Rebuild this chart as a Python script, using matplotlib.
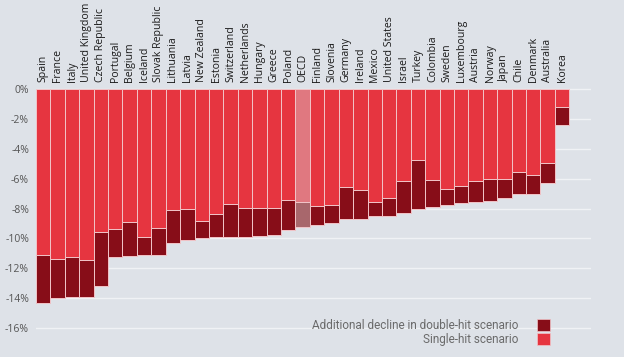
import matplotlib
matplotlib.use("Agg")
import matplotlib.pyplot as plt
from matplotlib.patches import Patch
from matplotlib.ticker import FuncFormatter

countries = ["Spain", "France", "Italy", "United Kingdom", "Czech Republic", "Portugal",
             "Belgium", "Iceland", "Slovak Republic", "Lithuania", "Latvia", "New Zealand",
             "Estonia", "Switzerland", "Netherlands", "Hungary", "Greece", "Poland", "OECD",
             "Finland", "Slovenia", "Germany", "Ireland", "Mexico", "United States", "Israel",
             "Turkey", "Colombia", "Sweden", "Luxembourg", "Austria", "Norway", "Japan",
             "Chile", "Denmark", "Australia", "Korea"]
# GDP decline in % (positive numbers, drawn downwards)
single_hit = [11.1, 11.35, 11.27, 11.47, 9.57, 9.35, 8.9, 9.9, 9.28, 8.1, 8.03, 8.84,
              8.35, 7.68, 7.97, 7.97, 7.97, 7.45, 7.54, 7.8, 7.79, 6.58, 6.76, 7.54,
              7.3, 6.13, 4.77, 6.09, 6.67, 6.47, 6.18, 6.0, 6.02, 5.56, 5.76, 4.98, 1.2]
double_hit = [14.3, 14.0, 13.95, 13.9, 13.19, 11.27, 11.2, 11.13, 11.09, 10.3, 10.1, 9.97,
              9.9, 9.9, 9.9, 9.86, 9.75, 9.44, 9.26, 9.08, 9.0, 8.72, 8.68, 8.52,
              8.48, 8.32, 8.05, 7.87, 7.79, 7.65, 7.54, 7.47, 7.3, 7.03, 7.05, 6.29, 2.43]

bg = "#dee2e8"
light = "#e63540"
dark = "#870d18"

fig = plt.figure(figsize=(6.24, 3.57), dpi=100, facecolor=bg)
ax = fig.add_axes([0.0577, 0.0686, 0.947 - 0.0577, 0.7549 - 0.0686], facecolor=bg)

x = list(range(len(countries)))
extra = [d - s for s, d in zip(single_hit, double_hit)]
light_cols = ["#e07880" if c == "OECD" else light for c in countries]
dark_cols = ["#a8676c" if c == "OECD" else dark for c in countries]

ax.bar(x, [-v for v in single_hit], width=1.0, color=light_cols,
       edgecolor="#f2c4c8", linewidth=0.7, zorder=3)
ax.bar(x, [-v for v in extra], bottom=[-v for v in single_hit], width=1.0,
       color=dark_cols, edgecolor="#f2c4c8", linewidth=0.7, zorder=3)

ax.set_xlim(-0.5, 38.0)
ax.set_ylim(-16.3, 0.1)
ax.set_yticks(range(-16, 1, 2))
ax.yaxis.set_major_formatter(FuncFormatter(lambda v, p: f"{int(v)}%"))
ax.grid(axis="y", color="#f0f2f5", linewidth=1.0, zorder=0)
ax.tick_params(axis="y", length=0, pad=5, labelsize=7.5, labelcolor="#555555")
ax.xaxis.tick_top()
ax.set_xticks(x)
ax.set_xticklabels(countries, rotation=90, fontsize=7.6, color="#1a1a1a",
                   family=["Open Sans", "DejaVu Sans"])
ax.tick_params(axis="x", length=0, pad=4)
for lab in ax.get_yticklabels():
    lab.set_family(["Open Sans", "DejaVu Sans"])
for s in ax.spines.values():
    s.set_visible(False)

handles = [Patch(facecolor=dark, edgecolor="#f2c4c8", linewidth=0.5),
           Patch(facecolor=light, edgecolor="#f2c4c8", linewidth=0.5)]
leg = fig.legend(handles, ["Additional decline in double-hit scenario", "Single-hit scenario"],
                 loc="lower right", bbox_to_anchor=(556 / 624, 5 / 357), markerfirst=False,
                 frameon=False, handlelength=1.1, handleheight=1.15, handletextpad=1.6,
                 labelspacing=0.1, borderpad=0,
                 prop={"family": ["Roboto", "DejaVu Sans"], "size": 8.5})
for t in leg.get_texts():
    t.set_color("#6a6a6a")

fig.savefig("out.png", dpi=100, facecolor=bg)
